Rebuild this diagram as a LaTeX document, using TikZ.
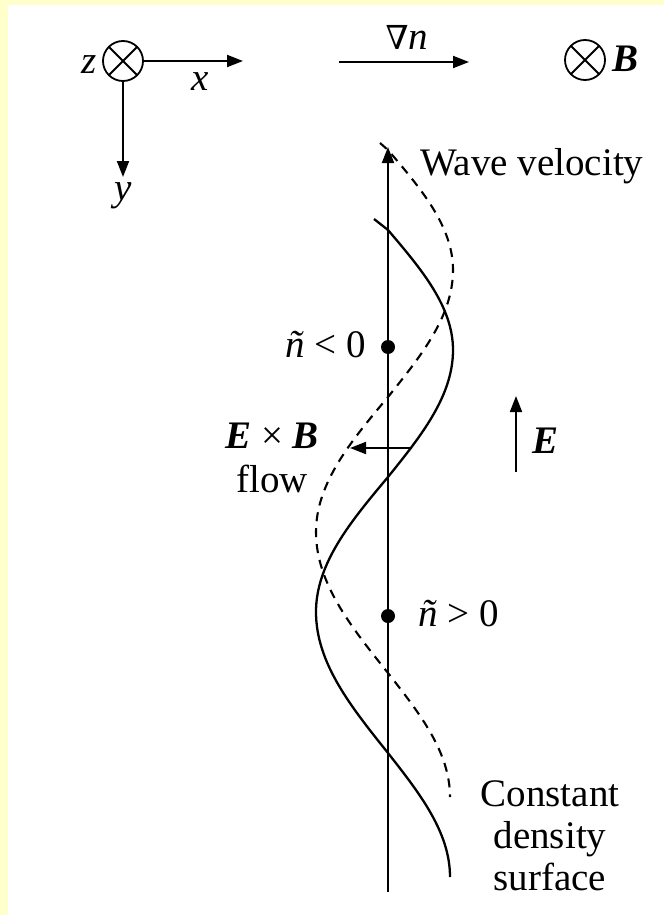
\documentclass[tikz,border=0pt]{standalone}
\usepackage{fontspec}
\setmainfont{Liberation Serif}
\newfontfamily\symfont{DejaVu Serif}
\usetikzlibrary{arrows.meta}
\definecolor{bgyellow}{RGB}{255,255,204}
\begin{document}
\begin{tikzpicture}[x=1pt,y=-1pt,
  font=\fontsize{39}{42}\selectfont,
  lbl/.style={inner sep=0pt},
  arr/.style={line width=1.9pt,-{Triangle[length=16pt,width=12pt]}},
  wave/.style={line width=2.3pt},
  wavedash/.style={line width=2.1pt,dash pattern=on 9pt off 7pt},
  otimes/.style={circle,draw,line width=1.8pt,minimum size=40pt,inner sep=0pt,
    path picture={\draw[line width=1.8pt]
      (path picture bounding box.north west) -- (path picture bounding box.south east)
      (path picture bounding box.north east) -- (path picture bounding box.south west);}},
  dot/.style={circle,fill,inner sep=0pt,minimum size=14pt}]
% background
\fill[bgyellow] (0,0) rectangle (664,915);
\fill[white] (8,5) rectangle (664,915);
\useasboundingbox (0,0) rectangle (664,915);

% coordinate system
\node[otimes] (zc) at (123,61) {};
\node[lbl,anchor=base east] (zl) at (97,74) {\textit{z}};
\coordinate (xt) at (243,61);
\draw[arr] (zc.east) -- (xt);
\node[lbl,anchor=base] (xl) at (200,91) {\textit{x}};
\coordinate (yt) at (123,177);
\draw[arr] (zc.south) -- (yt);
\node[lbl,anchor=base] (yl) at (123,200) {\textit{y}};

% grad n
\coordinate (gs) at (339,62);
\coordinate (ge) at (469,62);
\draw[arr] (gs) -- (ge);
\node[lbl,anchor=base] (gl) at (407,50) {{\symfont\fontsize{33}{40}\selectfont ∇}\textit{n}};

% B field
\node[otimes] (bc) at (585,60) {};
\node[lbl,anchor=base west] (bl) at (612,72) {\textbf{\textit{B}}};

% main axis / wave velocity
\coordinate (ab) at (388,892);
\coordinate (at) at (388,147);
\draw[arr] (ab) -- (at);
\node[lbl,anchor=base west] (wv) at (420,175) {Wave velocity};

% dashed (later) surface
\draw[wavedash] (380,143) -- (388,150)
  .. controls (421.3,189.1) and (453,226.6) .. (453,270)
  .. controls (453,316) and (421.3,355.6) .. (388,397)
  .. controls (351.1,441) and (316,483.1) .. (316,532)
  .. controls (316,583) and (351.1,627) .. (388,673)
  .. controls (419.7,713.4) and (450,752.1) .. (450,797);

% solid constant density surface
\draw[wave] (374,219) -- (388,230)
  .. controls (421.3,269.1) and (453,306.6) .. (453,350)
  .. controls (453,396) and (421.3,435.6) .. (388,477)
  .. controls (351.1,521) and (316,563.1) .. (316,612)
  .. controls (316,663) and (351.1,707) .. (388,753)
  .. controls (419.7,793.4) and (450,832.1) .. (450,877);

% density perturbation markers
\node[dot] (d1) at (388,347) {};
\node[lbl,anchor=base east] (n1) at (366,357) {\textit{ñ} < 0};
\node[dot] (d2) at (388,616) {};
\node[lbl,anchor=base west] (n2) at (418,626) {\textit{ñ} > 0};

% E field
\coordinate (eb) at (516,472);
\coordinate (et) at (516,396);
\draw[arr] (eb) -- (et);
\node[lbl,anchor=base west] (el) at (532,453) {\textbf{\textit{E}}};

% ExB flow
\coordinate (fs) at (412,448);
\coordinate (ft) at (350,448);
\draw[arr] (fs) -- (ft);
\node[lbl,anchor=base] (exb) at (272,448) {\textbf{\textit{E}} × \textbf{\textit{B}}};
\node[lbl,anchor=base] (fl) at (272,492) {flow};

% label
\node[lbl,align=center] (cds) at (550,836) {Constant\\density\\surface};
\end{tikzpicture}
\end{document}
